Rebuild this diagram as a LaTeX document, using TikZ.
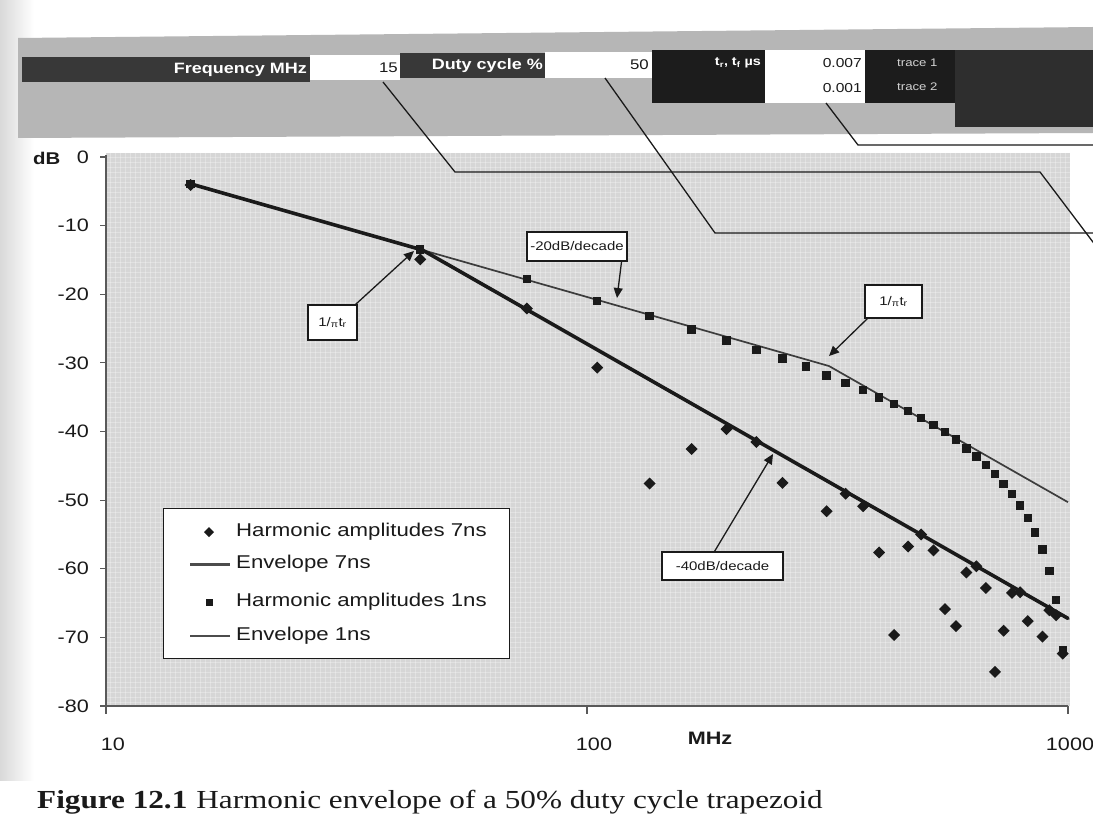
\documentclass[tikz,border=0pt]{standalone}
\usepackage{fontspec}
\setmainfont{Liberation Serif}[FakeStretch=1.2]
\newfontfamily\af{Liberation Sans}[FakeStretch=1.2]
\usetikzlibrary{arrows.meta}
\newcommand\myfs[1]{\fontsize{#1}{#1}\selectfont}
\definecolor{band}{HTML}{B6B6B6}
\definecolor{plotbg}{HTML}{D6D6D6}
\definecolor{darka}{HTML}{383838}
\definecolor{darkb}{HTML}{1C1C1C}
\definecolor{darkc}{HTML}{2E2E2E}
\definecolor{ink}{HTML}{1A1A1A}
\tikzset{
  hdrtxt/.style={inner sep=0pt, text=white, font=\af\bfseries\myfs{15}},
  valtxt/.style={inner sep=0pt, text=ink, font=\af\myfs{14}},
  trctxt/.style={inner sep=0pt, text=gray!35, font=\af\myfs{11}},
  ticklab/.style={inner sep=0pt, text=ink, font=\af\myfs{18}},
  legtxt/.style={inner sep=0pt, anchor=west, text=ink, font=\af\myfs{18.5}},
  anno/.style={draw=ink, line width=1.1pt, fill=white, inner sep=0pt, text=ink, font=\af\myfs{12.5}},
  arr/.style={-{Triangle[length=10pt,width=9pt]}, line width=1.3pt, draw=ink},
  lead/.style={line width=1.3pt, draw=ink},
  axisln/.style={line width=1.1pt, draw=gray!70!black},
  envA/.style={line width=3.6pt, draw=ink, line cap=round},
  envB/.style={line width=1.7pt, draw=ink!85},
  texture/.style={draw=white, line width=0.6pt, opacity=0.28},
}
\begin{document}
\begin{tikzpicture}[x=1pt,y=-1pt]
\useasboundingbox (0,0) rectangle (1093,829);
\clip (0,0) rectangle (1093,829);
\fill[white] (0,0) rectangle (1093,829);
\shade[left color=gray!30, right color=white] (0,0) rectangle (34,780);

% ---------- header band ----------
\fill[band] (18,38) -- (1093,27) -- (1093,133) -- (18,138) -- cycle;
\fill[darka] (22,57) rectangle (310,82);
\fill[white] (310,55) rectangle (400,80);
\fill[darka] (400,53) rectangle (545,78);
\fill[white] (545,52) rectangle (652,78);
\fill[darkb] (652,50) rectangle (765,103);
\fill[white] (765,50) rectangle (865,103);
\fill[darkb] (865,50) rectangle (955,103);
\fill[darkc] (955,50) rectangle (1093,127);

\node[hdrtxt, anchor=east] (freq) at (307,70) {Frequency MHz};
\node[valtxt, anchor=east] (fval) at (398,68) {15};
\node[hdrtxt, anchor=east] (duty) at (543,66) {Duty cycle \%};
\node[valtxt, anchor=east] (dval) at (649,65) {50};
\node[hdrtxt, anchor=east, font=\af\bfseries\myfs{12}] (trtf) at (761,63) {t\textsubscript{r}, t\textsubscript{f} µs};
\node[valtxt, anchor=east, font=\af\myfs{13}] (tra) at (862,63) {0.007};
\node[valtxt, anchor=east, font=\af\myfs{13}] (trb) at (862,88) {0.001};
\node[trctxt, anchor=west] (trace1) at (897,63) {trace 1};
\node[trctxt, anchor=west] (trace2) at (897,87) {trace 2};

% ---------- plot area ----------
\fill[plotbg] (106,153) rectangle (1070,706);
\foreach \gx in {110,115,...,1065} \draw[texture] (\gx,153) -- (\gx,706);
\foreach \gy in {157,162,...,702} \draw[texture] (106,\gy) -- (1070,\gy);

% leader lines from the header cells
\coordinate (l1a) at (383,82);
\coordinate (l1b) at (455,172);
\coordinate (l1c) at (1040,172);
\coordinate (l1d) at (1102,254);
\coordinate (l2a) at (605,78);
\coordinate (l2b) at (715,233);
\coordinate (l2c) at (1102,233);
\coordinate (l3a) at (826,103);
\coordinate (l3b) at (858,145);
\coordinate (l3c) at (1102,145);
\draw[lead] (l1a) -- (l1b) -- (l1c) -- (l1d);
\draw[lead] (l2a) -- (l2b) -- (l2c);
\draw[lead] (l3a) -- (l3b) -- (l3c);

% axes
\draw[axisln] (106,155) -- (106,706) -- (1068,706);
\foreach \v [count=\i from 0] in {0,-10,-20,-30,-40,-50,-60,-70,-80}{
  \draw[axisln] (100,157+68.625*\i) -- (106,157+68.625*\i);
  \node[ticklab, anchor=east] (yl\i) at (89,157+68.625*\i) {\v};
}
\node[ticklab, anchor=west, font=\af\bfseries\myfs{17}] (dblab) at (33,158) {dB};
\foreach \xp/\lab/\lx in {106/10/113, 587/100/594, 1068/1000/1070}{
  \draw[axisln] (\xp,706) -- (\xp,714);
  \node[ticklab] (xl\lab) at (\lx,744) {\lab};
}
\node[ticklab, font=\af\bfseries\myfs{18}] (mhz) at (710,738) {MHz};

% envelopes
\coordinate (s0) at (190.7,183.9);
\coordinate (c7) at (422.4,250.0);
\coordinate (e7) at (1068,618.4);
\coordinate (c1) at (828.9,366.0);
\coordinate (e1) at (1068,502.2);
\draw[envB] (s0) -- (c1) -- (e1);
\draw[envA] (s0) -- (c7) -- (e7);

% harmonic amplitudes
\begin{scope}
\clip (106,153) rectangle (1070,706);
\foreach \n in {1,3,...,65}{
  \pgfmathsetmacro\xx{106+481*log10(1.5*\n)}
  \pgfmathsetmacro\da{8.685889*(ln(2/(\n*pi))+ln(abs(sin(\n*18.9)))-ln(\n*pi*0.105))}
  \pgfmathsetmacro\db{8.685889*(ln(2/(\n*pi))+ln(abs(sin(\n*2.7)))-ln(\n*pi*0.015))}
  \pgfmathsetmacro\ya{157-6.8625*\da}
  \pgfmathsetmacro\yb{157-6.8625*\db}
  \fill[ink] (\xx,\yb) +(-4.2,-4.2) rectangle +(4.2,4.2);
  \ifdim\ya pt<712pt
    \fill[ink] (\xx,\ya) +(-6,0) -- +(0,-6) -- +(6,0) -- +(0,6) -- cycle;
  \fi
}
\end{scope}

% annotations
\node[anno, minimum width=49pt, minimum height=35pt] (a1) at (332.5,322.5) {1/\textsubscript{π}t\textsubscript{r}};
\coordinate (a1t) at (414,251);
\draw[arr] ([xshift=-2pt]a1.north east) -- (a1t);

\node[anno, minimum width=100pt, minimum height=29pt] (a2) at (577,246.5) {-20dB/decade};
\coordinate (a2t) at (617,298);
\draw[arr] ([xshift=-6pt]a2.south east) -- (a2t);

\node[anno, minimum width=57pt, minimum height=33pt] (a3) at (893.5,301.5) {1/\textsubscript{π}t\textsubscript{r}};
\coordinate (a3t) at (829,356);
\draw[arr] ([xshift=3pt]a3.south west) -- (a3t);

\node[anno, minimum width=121pt, minimum height=28pt] (a4) at (722.5,566) {-40dB/decade};
\coordinate (a4t) at (773,454);
\draw[arr] ([xshift=-8pt]a4.north) -- (a4t);

% legend
\node[draw=ink, line width=0.9pt, fill=white, minimum width=346pt, minimum height=150pt, anchor=north west, inner sep=0pt] (legend) at (163,508) {};
\fill[ink] (209,532) +(-5,0) -- +(0,-5) -- +(5,0) -- +(0,5) -- cycle;
\node[legtxt] (lg1) at (236,532) {Harmonic amplitudes 7ns};
\draw[line width=3pt, draw=gray!60!black] (190,564) -- (230,564);
\node[legtxt] (lg2) at (236,564) {Envelope 7ns};
\fill[ink] (209,602) +(-3.5,-3.5) rectangle +(3.5,3.5);
\node[legtxt] (lg3) at (236,602) {Harmonic amplitudes 1ns};
\draw[line width=1.6pt, draw=gray!60!black] (190,636) -- (230,636);
\node[legtxt] (lg4) at (236,636) {Envelope 1ns};

% caption
\node[anchor=base west, inner sep=0pt, text=ink] (cap) at (37,808) {\myfs{26}\textbf{Figure 12.1}\hspace{9pt}Harmonic envelope of a 50\% duty cycle trapezoid};
\end{tikzpicture}
\end{document}
